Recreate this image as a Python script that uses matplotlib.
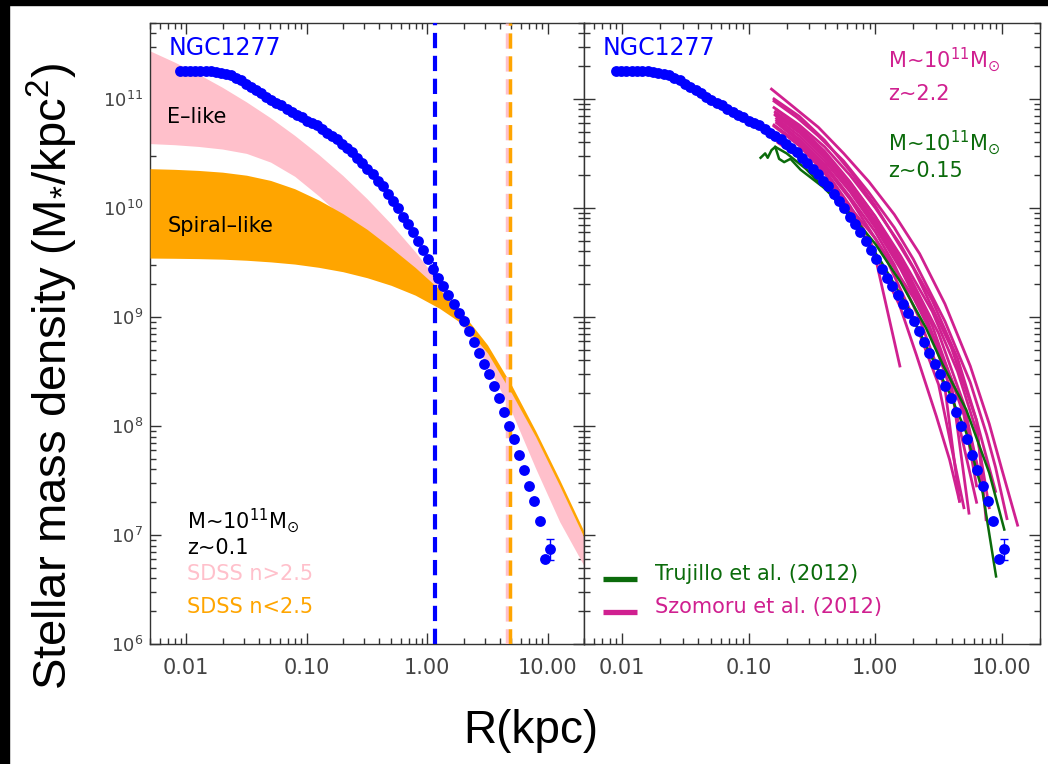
import matplotlib
matplotlib.use("Agg")
import matplotlib.pyplot as plt
from matplotlib.patches import Rectangle
from matplotlib.ticker import NullFormatter
import numpy as np

plt.rcParams['font.family'] = ['DejaVu Sans']
plt.rcParams['mathtext.fontset'] = 'dejavusans'
plt.rcParams['lines.scale_dashes'] = False

# NGC1277 stellar mass density profile: log10 R (kpc), log10 Sigma (Msun/kpc^2)
ngc_logr = [-2.050, -2.008, -1.966, -1.924, -1.882, -1.840, -1.798, -1.756, -1.714, -1.672,
            -1.630, -1.588, -1.546, -1.504, -1.462, -1.420, -1.378, -1.336, -1.294, -1.252,
            -1.210, -1.168, -1.126, -1.084, -1.042, -1.000, -0.958, -0.916, -0.874, -0.832,
            -0.790, -0.748, -0.706, -0.664, -0.622, -0.580, -0.538, -0.496, -0.454, -0.412,
            -0.370, -0.328, -0.286, -0.244, -0.202, -0.160, -0.118, -0.076, -0.034, 0.008,
            0.050, 0.092, 0.134, 0.176, 0.218, 0.260, 0.302, 0.344, 0.386, 0.428,
            0.470, 0.512, 0.554, 0.596, 0.638, 0.680, 0.722, 0.764, 0.806, 0.848,
            0.890, 0.932, 0.974, 1.016]
ngc_logsig = [11.26, 11.26, 11.26, 11.26, 11.26, 11.26, 11.255, 11.25, 11.24, 11.23,
              11.215, 11.19, 11.17, 11.14, 11.11, 11.08, 11.05, 11.02, 10.99, 10.96,
              10.94, 10.91, 10.88, 10.85, 10.83, 10.80, 10.78, 10.76, 10.72, 10.69,
              10.66, 10.63, 10.59, 10.55, 10.51, 10.46, 10.41, 10.36, 10.31, 10.25,
              10.20, 10.13, 10.06, 10.00, 9.92, 9.85, 9.78, 9.70, 9.61, 9.53,
              9.44, 9.36, 9.28, 9.20, 9.12, 9.04, 8.96, 8.87, 8.77, 8.67,
              8.57, 8.48, 8.37, 8.26, 8.13, 8.00, 7.88, 7.73, 7.60, 7.45,
              7.31, 7.13, 6.78, 6.87]
last_err_lo = 6.77
last_err_hi = 6.96

# SDSS bands (log10 R, log10 Sigma)
band_logr = [-2.3, -2.1, -1.9, -1.7, -1.5, -1.3, -1.1, -0.9, -0.7, -0.5,
             -0.3, -0.1, 0.1, 0.3, 0.5, 0.7, 0.9, 1.1, 1.3]
elike_hi = [11.44, 11.339, 11.228, 11.106, 10.972, 10.826, 10.665, 10.489, 10.297, 10.085,
            9.853, 9.598, 9.319, 9.013, 8.678, 8.310, 7.907, 7.465, 6.980]
elike_lo = [10.59, 10.58, 10.564, 10.54, 10.50, 10.42, 10.29, 10.11, 9.91, 9.72,
            9.54, 9.36, 9.17, 8.90, 8.56, 8.13, 7.61, 7.12, 6.72]
spiral_hi = [10.36, 10.354, 10.344, 10.328, 10.300, 10.252, 10.176, 10.072, 9.948, 9.804,
             9.634, 9.454, 9.254, 9.024, 8.744, 8.374, 7.954, 7.504, 7.034]
spiral_lo = [9.54, 9.538, 9.535, 9.53, 9.52, 9.505, 9.485, 9.455, 9.415, 9.36,
             9.29, 9.20, 9.08, 8.93, 8.67, 8.30, 7.90, 7.45, 6.98]

re_ngc = 1.17
re_elike = 4.58
re_spiral = 4.90

# Szomoru et al. (2012) profiles, z~2.2 (log10 R, log10 Sigma)
szomoru_logr = [
    [-0.82, -0.65, -0.45, -0.25, -0.05, 0.15, 0.35, 0.55, 0.75, 0.90, 1.00, 1.124],
    [-0.80, -0.62, -0.45, -0.25, -0.05, 0.15, 0.30, 0.55, 0.75, 0.88, 0.95, 1.04],
    [-0.80, -0.60, -0.40, -0.20, 0.00, 0.20, 0.45, 0.65, 0.80, 0.875],
    [-0.79, -0.60, -0.40, -0.20, 0.00, 0.20, 0.45, 0.65, 0.80, 0.90],
    [-0.79, -0.60, -0.40, -0.20, 0.00, 0.20, 0.40, 0.60, 0.74],
    [-0.78, -0.60, -0.40, -0.20, 0.00, 0.20, 0.40, 0.60, 0.80],
    [-0.78, -0.60, -0.40, -0.20, 0.00, 0.15, 0.35, 0.55, 0.665],
    [-0.78, -0.60, -0.40, -0.20, 0.00, 0.10, 0.30, 0.50, 0.70],
    [-0.80, -0.60, -0.40, -0.20, -0.05, 0.063, 0.194, 0.325, 0.482, 0.587, 0.665],
    [-0.80, -0.60, -0.40, -0.20, 0.00, 0.194],
    [-0.78, -0.60, -0.40, -0.20, 0.00, 0.25, 0.50, 0.70, 0.85],
    [-0.77, -0.55, -0.30, 0.00, 0.30, 0.50, 0.70, 0.82],
    [-0.80, -0.60, -0.40, -0.20, 0.00, 0.30, 0.60, 0.80, 0.95],
    [-0.79, -0.60, -0.40, -0.20, 0.00, 0.20, 0.45, 0.70, 0.80],
]
szomoru_logsig = [
    [11.09, 10.93, 10.74, 10.50, 10.24, 9.94, 9.58, 9.12, 8.55, 8.02, 7.60, 7.09],
    [10.98, 10.83, 10.66, 10.43, 10.14, 9.82, 9.53, 8.96, 8.40, 7.92, 7.62, 7.15],
    [10.92, 10.76, 10.56, 10.30, 10.00, 9.66, 9.15, 8.62, 8.05, 7.14],
    [10.88, 10.72, 10.50, 10.23, 9.92, 9.56, 9.05, 8.50, 7.95, 7.25],
    [10.85, 10.69, 10.46, 10.18, 9.85, 9.47, 9.00, 8.40, 7.20],
    [10.82, 10.66, 10.43, 10.15, 9.82, 9.44, 8.98, 8.32, 7.30],
    [10.80, 10.63, 10.40, 10.10, 9.78, 9.48, 8.98, 8.35, 7.31],
    [10.78, 10.61, 10.38, 10.08, 9.72, 9.50, 9.00, 8.38, 7.25],
    [10.76, 10.59, 10.35, 10.02, 9.72, 9.42, 9.10, 8.65, 8.09, 7.69, 7.31],
    [10.75, 10.57, 10.32, 9.98, 9.55, 8.55],
    [10.90, 10.74, 10.52, 10.24, 9.92, 9.42, 8.85, 8.20, 7.40],
    [10.60, 10.42, 10.15, 9.72, 9.18, 8.72, 8.15, 7.55],
    [11.00, 10.84, 10.62, 10.34, 10.02, 9.45, 8.72, 8.05, 7.40],
    [10.86, 10.70, 10.48, 10.20, 9.88, 9.50, 8.92, 8.10, 7.45],
]

# Trujillo et al. (2012) profiles, z~0.15
trujillo_logr = [
    [-0.906, -0.87, -0.85, -0.82, -0.79, -0.76, -0.72, -0.67, -0.59, -0.40, -0.20, 0.00, 0.20, 0.40, 0.534, 0.718, 0.90, 1.019],
    [-0.79, -0.70, -0.55, -0.35, -0.15, 0.05, 0.25, 0.45, 0.587, 0.718, 0.848, 0.954],
]
trujillo_logsig = [
    [10.46, 10.50, 10.46, 10.53, 10.56, 10.45, 10.42, 10.45, 10.35, 10.18, 9.95, 9.67, 9.32, 8.90, 8.56, 8.15, 7.57, 7.05],
    [10.56, 10.50, 10.36, 10.12, 9.85, 9.50, 9.10, 8.62, 8.30, 7.94, 7.39, 6.62],
]

blue = '#0000FF'
pink = '#FFC0CB'
orange = '#FFA500'
magenta = '#D02090'
green = '#0B6B0B'
tickgray = '#444444'

W, H = 1048, 764


def fx(x):
    return x / W


def fy(y):
    return 1 - y / H


fig = plt.figure(figsize=(W / 100, H / 100), dpi=100)
axl = fig.add_axes([fx(150), fy(644), 434 / W, 621.3 / H])
axr = fig.add_axes([fx(584), fy(644), 456 / W, 621.3 / H])

r = 10 ** np.array(ngc_logr)
sig = 10 ** np.array(ngc_logsig)

for ax in (axl, axr):
    ax.set_xscale('log')
    ax.set_yscale('log')
    ax.set_xlim(0.005, 20)
    ax.set_ylim(1e6, 5e11)
    ax.set_xticks([0.01, 0.1, 1, 10])
    ax.set_xticklabels(['0.01', '0.10', '1.00', '10.00'])
    ax.set_yticks([1e6, 1e7, 1e8, 1e9, 1e10, 1e11])
    ax.xaxis.set_minor_formatter(NullFormatter())
    ax.yaxis.set_minor_formatter(NullFormatter())
    ax.tick_params(which='both', direction='in', top=True, right=True,
                   color='#333333', labelcolor=tickgray)
    ax.tick_params(which='major', length=8, width=1)
    ax.tick_params(which='minor', length=4, width=1)
    ax.tick_params(axis='x', labelsize=15, pad=10)
    for s in ax.spines.values():
        s.set_color('#333333')
        s.set_linewidth(1)
    # profile
    ax.errorbar(r[-1], sig[-1],
                yerr=[[sig[-1] - 10 ** last_err_lo], [10 ** last_err_hi - sig[-1]]],
                fmt='none', ecolor=blue, elinewidth=1, capsize=3, zorder=6)
    ax.plot(r, sig, 'o', color=blue, markersize=7.8, markeredgewidth=0, zorder=7)

axl.set_yticklabels(['$10^{6}$', '$10^{7}$', '$10^{8}$', '$10^{9}$', '$10^{10}$', '$10^{11}$'])
axl.tick_params(axis='y', labelsize=13, pad=5)
axr.set_yticklabels([])

# left panel: SDSS bands
br = 10 ** np.array(band_logr)
axl.fill_between(br, 10 ** np.array(elike_lo), 10 ** np.array(elike_hi),
                 color=pink, linewidth=0, zorder=2)
axl.fill_between(br, 10 ** np.array(spiral_lo), 10 ** np.array(spiral_hi),
                 color=orange, linewidth=0, zorder=3)
axl.axvline(re_ngc, color=blue, lw=3, dashes=(11, 5.5), zorder=5)
axl.axvline(re_elike, color=pink, lw=2.5, dashes=(11, 5.5), zorder=5)
axl.axvline(re_spiral, color=orange, lw=2.5, dashes=(11, 5.5), zorder=5)

# right panel: high-z and local compact galaxies
for lr, ls in zip(szomoru_logr, szomoru_logsig):
    axr.plot(10 ** np.array(lr), 10 ** np.array(ls), color=magenta, lw=2, zorder=3)
for lr, ls in zip(trujillo_logr, trujillo_logsig):
    axr.plot(10 ** np.array(lr), 10 ** np.array(ls), color=green, lw=1.8, zorder=4)

# legend samples
axr.plot([(602.7 - 584) / 456, (637.3 - 584) / 456], [(644 - 579) / 621.3] * 2,
         transform=axr.transAxes, color=green, lw=3.8, solid_capstyle='butt')
axr.plot([(602.7 - 584) / 456, (637.3 - 584) / 456], [(644 - 612) / 621.3] * 2,
         transform=axr.transAxes, color=magenta, lw=3.8, solid_capstyle='butt')

fs = 15
fig.text(fx(655), fy(580), 'Trujillo et al. (2012)', color=green, fontsize=fs)
fig.text(fx(655), fy(613), 'Szomoru et al. (2012)', color=magenta, fontsize=fs)

fig.text(fx(169), fy(55), 'NGC1277', color=blue, fontsize=17)
fig.text(fx(603), fy(55), 'NGC1277', color=blue, fontsize=17)
fig.text(fx(167), fy(123), 'E\u2013like', color='black', fontsize=fs)
fig.text(fx(168), fy(232), 'Spiral\u2013like', color='black', fontsize=fs)
fig.text(fx(187), fy(528), 'M~10$^{11}$M$_{\\odot}$', color='black', fontsize=fs)
fig.text(fx(187), fy(554), 'z~0.1', color='black', fontsize=fs)
fig.text(fx(187), fy(580), 'SDSS n>2.5', color=pink, fontsize=fs)
fig.text(fx(187), fy(613), 'SDSS n<2.5', color=orange, fontsize=fs)
fig.text(fx(888), fy(67), 'M~10$^{11}$M$_{\\odot}$', color=magenta, fontsize=fs)
fig.text(fx(888), fy(100), 'z~2.2', color=magenta, fontsize=fs)
fig.text(fx(888), fy(150), 'M~10$^{11}$M$_{\\odot}$', color=green, fontsize=fs)
fig.text(fx(888), fy(177), 'z~0.15', color=green, fontsize=fs)

# axis titles
plt.rcParams['mathtext.rm'] = 'Liberation Sans'
plt.rcParams['mathtext.it'] = 'Liberation Sans:italic'
plt.rcParams['mathtext.bf'] = 'Liberation Sans:bold'
fig.text(fx(531), fy(743), 'R(kpc)', fontsize=33, family='Liberation Sans',
         ha='center', va='baseline')
fig.text(fx(52), fy(376), 'Stellar mass density (M$_{*}$/kpc$^{2}$)', fontsize=34,
         family='Liberation Sans', math_fontfamily='custom', rotation=90,
         ha='center', va='center')

# black frame edges from the slide
fig.add_artist(Rectangle((0, fy(5)), 1, 5 / H, transform=fig.transFigure,
                         color='black', zorder=20))
fig.add_artist(Rectangle((0, 0), 9 / W, 1, transform=fig.transFigure,
                         color='black', zorder=20))

fig.savefig('out.png', dpi=100)
